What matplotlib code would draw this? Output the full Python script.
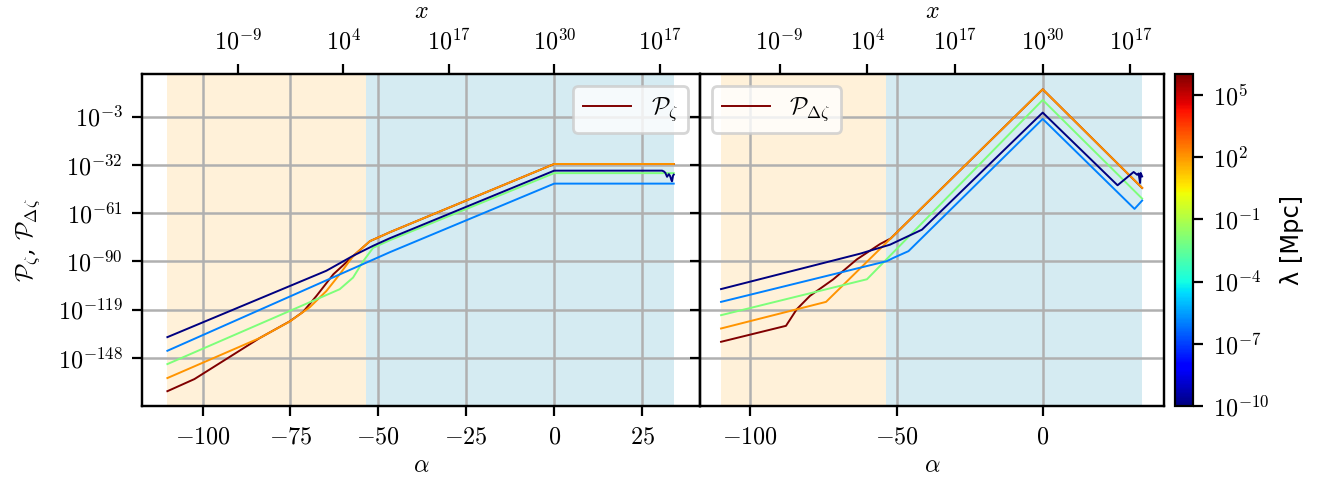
import numpy as np
import matplotlib
matplotlib.use("Agg")
import matplotlib.pyplot as plt
from matplotlib.colors import LogNorm
from matplotlib.ticker import NullLocator
import matplotlib.cm as cm

# wavelengths of the five modes [Mpc]
lam = [1e6, 1e2, 1e-2, 1e-6, 1e-10]

# shaded epochs in alpha
alpha_start = -110
alpha_trans = -53.5
alpha_end = 34

# left panel: log10 P_zeta at knots in alpha
pz_red_a = [-110, -102.3, -83.8, -75.2, -71.4, -67.6, -62.8, -57.2, -52.4, -46.7, 0, 34]
pz_red_p = [-168.1, -160.8, -136.2, -126.1, -120.4, -110.8, -97.8, -86.9, -77.9, -72.5, -31.5, -31.5]
pz_orange_a = [-110, -83.8, -75.2, -69.5, -64.8, -61, -57.2, -52.4, -46.7, 0, 34]
pz_orange_p = [-160.2, -136.2, -126.2, -117.6, -107.9, -97.8, -86.9, -77.9, -72.5, -31.5, -31.5]
pz_green_a = [-110, -61, -57.2, -54.3, -51.5, -46.7, 0, 34]
pz_green_p = [-151.8, -106.8, -99.8, -89.9, -81.9, -77.3, -37.0, -37.0]
pz_blue_a = [-110, -46.7, 0, 34]
pz_blue_p = [-143.8, -84.5, -43.3, -43.3]
pz_navy_a = [-110, -64.8, -57.2, -51.5, -46.7, 0, 30.7, 31.2, 31.6, 32.1, 32.6, 33.0, 33.3, 33.5, 33.8, 34.0]
pz_navy_p = [-135.6, -95.7, -86.7, -80.7, -76.1, -35.5, -35.5, -36.0, -36.8, -39.2, -37.6, -38.9, -41.0, -41.9, -38.5, -37.9]

# right panel: log10 P_dzeta
pd_red_a = [-110, -87.8, -84.1, -79.6, -71.6, -63.6, -55.6, -52, 0, 34]
pd_red_p = [-138.4, -128.8, -118.8, -110.8, -100.8, -88.9, -79.6, -76.3, 13.4, -45.9]
pd_orange_a = [-110, -74.1, 0, 34]
pd_orange_p = [-130.4, -114.4, 13.4, -45.9]
pd_green_a = [-110, -60.1, 0, 34]
pd_green_p = [-122.4, -100.8, 7.0, -52.3]
pd_blue_a = [-110, -53.3, -51, -45.9, 0, 31.4, 34]
pd_blue_p = [-114.4, -89.9, -87.9, -83.9, -4.4, -58.5, -53.5]
pd_navy_a = [-110, -62.4, -52.2, -41.3, 0, 25.6, 31.1, 32.3, 32.8, 33.3, 33.5, 34.0]
pd_navy_p = [-106.7, -85.4, -80.0, -71.0, -0.6, -44.3, -36.3, -38.0, -37.2, -42.9, -36.9, -39.0]

ytick_exp = [-148, -119, -90, -61, -32, -3]
top_ticks = [-90, -60, -30, 0, 30]
top_labels = ['$10^{-9}$', '$10^{4}$', '$10^{17}$', '$10^{30}$', '$10^{17}$']
cbar_exp = [-10, -7, -4, -1, 2, 5]

plt.rcParams['mathtext.fontset'] = 'cm'
plt.rcParams['font.family'] = 'serif'
plt.rcParams['font.serif'] = ['DejaVu Serif']
plt.rcParams['font.size'] = 8.7

fig = plt.figure(figsize=(6.62, 2.395), dpi=200)
ax1 = fig.add_axes([0.1073, 0.1524, 0.4215, 0.6931])
ax2 = fig.add_axes([0.5287, 0.1524, 0.3505, 0.6931], sharey=ax1)
cax = fig.add_axes([0.8875, 0.1524, 0.0136, 0.6931])

norm = LogNorm(1e-10, 1e6)
cmap = plt.get_cmap('jet')

left = [(pz_red_a, pz_red_p), (pz_orange_a, pz_orange_p), (pz_green_a, pz_green_p),
        (pz_blue_a, pz_blue_p), (pz_navy_a, pz_navy_p)]
right = [(pd_red_a, pd_red_p), (pd_orange_a, pd_orange_p), (pd_green_a, pd_green_p),
         (pd_blue_a, pd_blue_p), (pd_navy_a, pd_navy_p)]

for ax, curves, lab, xt in [(ax1, left, r'$\mathcal{P}_\zeta$', [-100, -75, -50, -25, 0, 25]),
                            (ax2, right, r'$\mathcal{P}_{\Delta\zeta}$', [-100, -50, 0])]:
    ax.axvspan(alpha_start, alpha_trans, color='orange', alpha=0.15, lw=0)
    ax.axvspan(alpha_trans, alpha_end, color='lightblue', alpha=0.5, lw=0)
    for i, (a, p) in enumerate(curves):
        ax.plot(a, 10.0 ** np.array(p), color=cmap(norm(lam[i])), lw=0.7,
                label=lab if i == 0 else None)
    ax.set_yscale('log')
    ax.set_xlim(-117.2, 41.5)
    ax.set_ylim(10.0 ** -177, 10.0 ** 22.6)
    ax.set_xticks(xt)
    ax.set_xticklabels(['$%d$' % v for v in xt])
    ax.set_xlabel(r'$\alpha$', labelpad=2)
    ax.grid(True, lw=0.9)
    top = ax.twiny()
    top.set_xlim(ax.get_xlim())
    top.set_xticks(top_ticks)
    top.set_xticklabels(top_labels)
    top.set_xlabel('$x$')

ax1.set_yticks([10.0 ** e for e in ytick_exp])
ax1.set_yticklabels(['$10^{%d}$' % e for e in ytick_exp])
ax1.yaxis.set_minor_locator(NullLocator())
ax2.tick_params(labelleft=False)
ax1.set_ylabel(r'$\mathcal{P}_\zeta$, $\mathcal{P}_{\Delta\zeta}$', labelpad=5.5)
ax1.legend(loc='upper right')
ax2.legend(loc='upper left')

cb = fig.colorbar(cm.ScalarMappable(norm=norm, cmap=cmap), cax=cax)
cb.set_ticks([10.0 ** e for e in cbar_exp])
cb.set_ticklabels(['$10^{%d}$' % e for e in cbar_exp])
cb.ax.yaxis.set_minor_locator(NullLocator())
cb.set_label('λ [Mpc]', family='DejaVu Sans')

fig.savefig('out.png', dpi=200)
